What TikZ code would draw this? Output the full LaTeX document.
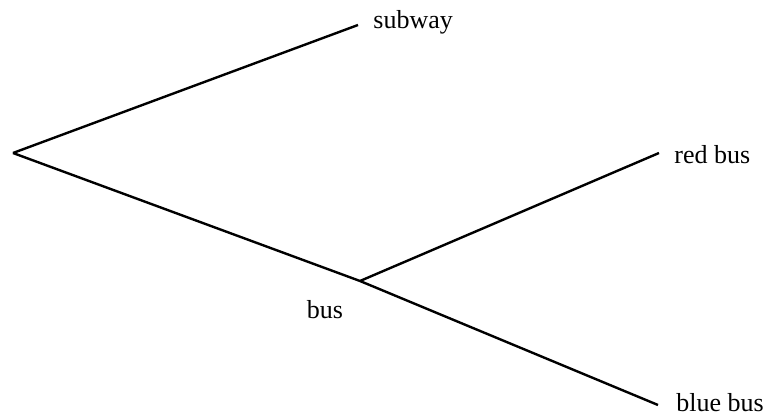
\documentclass[tikz,border=0pt]{standalone}
\usepackage{fontspec}
\setmainfont{Liberation Serif}
\usepackage{tikz}
\usetikzlibrary{positioning}

\tikzset{
  branch/.style={line width=1.2pt, black},
  leaf/.style={font=\fontsize{13}{15}\selectfont, inner sep=0pt, anchor=west}
}

\begin{document}
\begin{tikzpicture}[x=0.5pt, y=-0.5pt]
  \useasboundingbox (0,0) rectangle (782,416);
  \coordinate (root) at (13,153);
  \coordinate (bus) at (360,281);
  \coordinate (subwayend) at (358,25);
  \coordinate (redend) at (659,153);
  \coordinate (blueend) at (658,405);
  \node[leaf] (subway) at (373,22) {subway};
  \node[leaf] (red) at (674,155) {red bus};
  \node[leaf] (blue) at (676,403) {blue bus};
  \node[font=\fontsize{13}{15}\selectfont, inner sep=0pt] (buslabel) at (325,310) {bus};
  \draw[branch] (root) -- (subwayend);
  \draw[branch] (root) -- (bus) -- (blueend);
  \draw[branch] (bus) -- (redend);
\end{tikzpicture}
\end{document}
